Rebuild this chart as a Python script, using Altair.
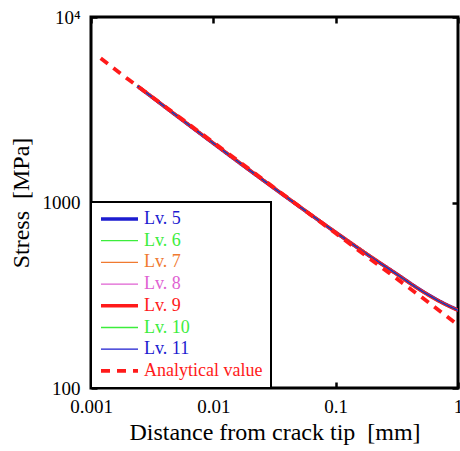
import altair as alt
import pandas as pd

# ---- data ----
series_names = ["Lv. 5", "Lv. 6", "Lv. 7", "Lv. 8", "Lv. 9", "Lv. 10", "Lv. 11", "Analytical value"]
series_colors = ["#1c1cd0", "#3ced3c", "#f07a30", "#e062d2", "#ff1a1a", "#3ced3c", "#1c1cd0", "#ff1a1a"]
series_widths = [3.5, 1.3, 1.3, 1.3, 3.5, 1.3, 1.3, 3.8]
series_dashes = [[1, 0], [1, 0], [1, 0], [1, 0], [1, 0], [1, 0], [1, 0], [9, 7]]

fem_distance = [0.0024, 0.003, 0.005, 0.01, 0.02, 0.03, 0.05, 0.1, 0.2, 0.3, 0.5, 0.7, 1.0]
lv5 = [4235, 3790, 2936, 2083, 1483, 1219, 955, 690, 502, 421, 336, 295, 263]
lv6 = [4242, 3796, 2940, 2086, 1485, 1221, 956, 691, 502, 420, 335, 294, 262]
lv7 = [4246, 3798, 2942, 2087, 1486, 1221, 956, 691, 502, 420, 335, 294, 262]
lv8 = [4248, 3799, 2943, 2088, 1486, 1222, 957, 691, 503, 420, 335, 294, 262]
lv9 = [4250, 3800, 2944, 2089, 1487, 1222, 957, 691, 503, 420, 335, 294, 262]
lv10 = [4251, 3801, 2944, 2089, 1487, 1222, 957, 691, 503, 420, 335, 294, 262]
lv11 = [4252, 3801, 2945, 2089, 1487, 1222, 957, 691, 503, 420, 335, 294, 262]

analytical_distance = [0.0012, 0.002, 0.005, 0.01, 0.02, 0.05, 0.1, 0.2, 0.5, 1.0]
analytical_stress = [6000, 4630, 2960, 2110, 1500, 957, 682, 486, 310, 219]

x_ticks = [0.001, 0.01, 0.1, 1]
y_ticks = [100, 1000, 10000]

# ---- tables ----
fem_rows = []
for name, vals in zip(series_names[:7], [lv5, lv6, lv7, lv8, lv9, lv10, lv11]):
    for d, s in zip(fem_distance, vals):
        fem_rows.append({"series": name, "distance": d, "stress": s})
fem_df = pd.DataFrame(fem_rows)
ana_df = pd.DataFrame({"series": series_names[7], "distance": analytical_distance,
                       "stress": analytical_stress})

label_color_expr = ""
for n, c in zip(series_names, series_colors):
    label_color_expr += f"datum.value == '{n}' ? '{c}' : "
label_color_expr += "'black'"

FONT = "Liberation Serif"
legend = alt.Legend(
    title=None, orient="bottom-left", offset=0, padding=8,
    fillColor="white", strokeColor="black",
    labelFont=FONT, labelFontSize=18, labelColor={"expr": label_color_expr},
    labelLimit=300, labelOffset=4, labelBaseline="middle",
    symbolType="stroke", symbolSize=1369, clipHeight=18, rowPadding=3.7,
)

xscale = alt.Scale(type="log", domain=[0.001, 1], nice=False)
yscale = alt.Scale(type="log", domain=[100, 10000], nice=False)

color = alt.Color("series:N", scale=alt.Scale(domain=series_names, range=series_colors), legend=legend)
width = alt.StrokeWidth("series:N", scale=alt.Scale(type="ordinal", domain=series_names, range=series_widths),
                        legend=legend)
dash = alt.StrokeDash("series:N", scale=alt.Scale(type="ordinal", domain=series_names, range=series_dashes),
                      legend=legend)

tick_common = dict(tickSize={"expr": "-6"}, tickColor="black", tickWidth=2.5, domain=False, grid=False)

x_axis_bottom = alt.Axis(values=x_ticks, format="~g", labelFlush=False, labelFont=FONT, labelFontSize=19,
                         labelColor="black", labelPadding=15,
                         title="Distance from crack tip\u00a0\u00a0[mm]", titleFont=FONT, titleFontSize=24,
                         titleFontWeight="normal", titleColor="black", titlePadding=4, **tick_common)
y_axis_left = alt.Axis(values=y_ticks, labelExpr="datum.value >= 10000 ? '10\u2074' : format(datum.value, 'd')",
                       labelFlush=False, labelFont=FONT, labelFontSize=19, labelColor="black",
                       labelPadding=17,
                       title="Stress\u00a0\u00a0[MPa]", titleFont=FONT, titleFontSize=24,
                       titleFontWeight="normal", titleColor="black", titlePadding=9, **tick_common)
x_axis_top = alt.Axis(orient="top", values=x_ticks, labels=False, title=None, **tick_common)
y_axis_right = alt.Axis(orient="right", values=y_ticks, labels=False, title=None, **tick_common)

fem = alt.Chart(fem_df).mark_line(clip=True, interpolate="monotone").encode(
    x=alt.X("distance:Q", scale=xscale, axis=x_axis_bottom),
    y=alt.Y("stress:Q", scale=yscale, axis=y_axis_left),
    color=color, strokeWidth=width, strokeDash=dash,
)
ana = alt.Chart(ana_df).mark_line(clip=True).encode(
    x=alt.X("distance:Q", scale=xscale, axis=x_axis_top),
    y=alt.Y("stress:Q", scale=yscale, axis=y_axis_right),
    color=color, strokeWidth=width, strokeDash=dash,
)

chart = alt.layer(fem, ana).resolve_axis(x="independent", y="independent").properties(
    width=367, height=371,
    autosize=alt.AutoSizeParams(type="none"),
    padding={"left": 91, "top": 17, "right": 2, "bottom": 63},
    background="white",
).configure(font=FONT).configure_view(stroke="black", strokeWidth=3).configure_legend(
    strokeWidth=2
).configure_axis(labelFont=FONT, titleFont=FONT)

chart.save("out.html", embed_options={"renderer": "svg", "actions": False})
